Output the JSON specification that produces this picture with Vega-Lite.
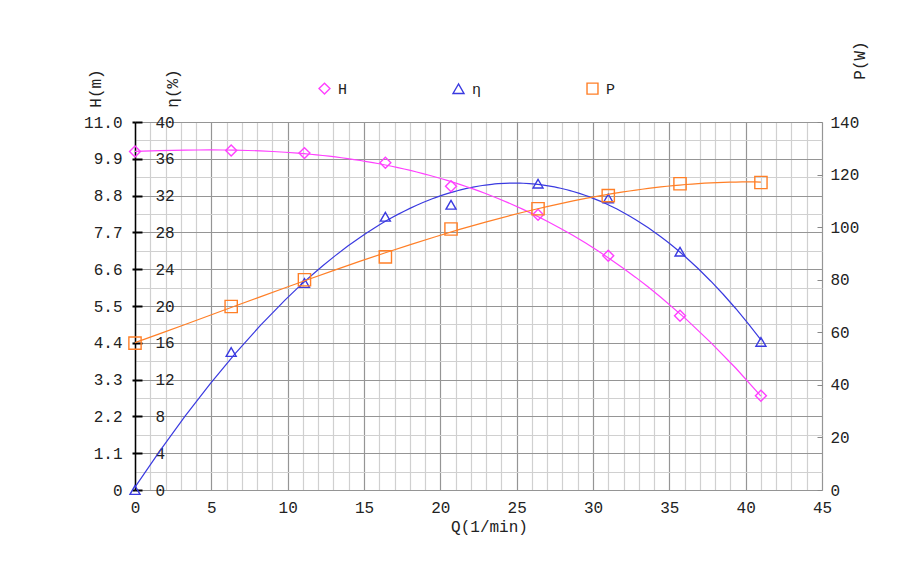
{
  "$schema": "https://vega.github.io/schema/vega-lite/v6.json",
  "width": 687,
  "height": 368,
  "autosize": "none",
  "padding": {"left": 135, "top": 122, "right": 101, "bottom": 97},
  "background": "white",
  "config": {
    "view": {"stroke": null},
    "font": "Liberation Mono",
    "axis": {"labelFont": "Liberation Mono", "titleFont": "Liberation Mono", "labelFontSize": 16, "titleFontSize": 16, "titleFontWeight": "normal", "labelColor": "#222", "titleColor": "#222"},
    "legend": {"labelFont": "Liberation Mono", "labelFontSize": 15, "labelColor": "#222"}
  },
  "data": {
    "values": [
      {"Q": 0, "series": "H", "value": 10.12},
      {"Q": 6.3, "series": "H", "value": 10.15},
      {"Q": 11.1, "series": "H", "value": 10.07},
      {"Q": 16.4, "series": "H", "value": 9.78},
      {"Q": 20.7, "series": "H", "value": 9.08},
      {"Q": 26.4, "series": "H", "value": 8.23},
      {"Q": 31.0, "series": "H", "value": 7.0},
      {"Q": 35.7, "series": "H", "value": 5.21},
      {"Q": 41.0, "series": "H", "value": 2.82},
      {"Q": 0, "series": "η", "value": 0},
      {"Q": 6.3, "series": "η", "value": 15.0},
      {"Q": 11.1, "series": "η", "value": 22.5},
      {"Q": 16.4, "series": "η", "value": 29.7},
      {"Q": 20.7, "series": "η", "value": 31.0},
      {"Q": 26.4, "series": "η", "value": 33.3},
      {"Q": 31.0, "series": "η", "value": 31.7},
      {"Q": 35.7, "series": "η", "value": 25.9},
      {"Q": 41.0, "series": "η", "value": 16.1},
      {"Q": 0, "series": "P", "value": 55.9},
      {"Q": 6.3, "series": "P", "value": 69.8},
      {"Q": 11.1, "series": "P", "value": 80.0},
      {"Q": 16.4, "series": "P", "value": 88.7},
      {"Q": 20.7, "series": "P", "value": 99.3},
      {"Q": 26.4, "series": "P", "value": 107.0},
      {"Q": 31.0, "series": "P", "value": 112.0},
      {"Q": 35.7, "series": "P", "value": 116.5},
      {"Q": 41.0, "series": "P", "value": 117.0}
    ]
  },
  "encoding": {
    "x": {
      "field": "Q", "type": "quantitative",
      "scale": {"domain": [0, 45], "nice": false},
      "axis": {
        "values": [0,1,2,3,4,5,6,7,8,9,10,11,12,13,14,15,16,17,18,19,20,21,22,23,24,25,26,27,28,29,30,31,32,33,34,35,36,37,38,39,40,41,42,43,44,45],
        "labelExpr": "datum.value % 5 == 0 ? datum.label : ''",
        "grid": true,
        "gridColor": {"condition": {"test": "datum.value % 5 == 0", "value": "#959595"}, "value": "#d0d0d0"},
        "gridWidth": 1.2,
        "ticks": false, "domain": false,
        "labelPadding": 9,
        "labelFlush": false,
        "title": "Q(1/min)",
        "titleX": 354, "titleY": 36, "titleBaseline": "middle", "titleAnchor": null, "titleAlign": "center"
      }
    }
  },
  "layer": [
    {
      "transform": [{"filter": {"field": "series", "equal": "η"}}],
      "encoding": {
        "y": {
          "field": "value", "type": "quantitative",
          "scale": {"domain": [0, 40], "nice": false},
          "axis": {
            "orient": "left",
            "values": [0,2,4,6,8,10,12,14,16,18,20,22,24,26,28,30,32,34,36,38,40],
            "labelExpr": "datum.value % 4 == 0 ? datum.label : ''",
            "grid": true,
            "gridColor": {"condition": {"test": "datum.value % 4 == 0", "value": "#959595"}, "value": "#d0d0d0"},
            "gridWidth": 1.2,
            "tickSize": -7, "tickWidth": 2,
            "tickColor": {"condition": {"test": "datum.value % 4 == 0", "value": "#000000"}, "value": "transparent"},
            "domain": false,
            "labelAlign": "left", "labelPadding": -13, "labelBaseline": "middle",
            "title": "η(%)", "titleAngle": 270, "titleX": 37, "titleY": -34, "titleAlign": "center", "titleBaseline": "middle"
          }
        }
      },
      "layer": [
        {
          "transform": [{"regression": "value", "on": "Q", "method": "poly", "order": 3, "extent": [0, 41]}],
          "mark": {"type": "line", "color": "#3a3ae0", "strokeWidth": 1.2}
        },
        {
          "mark": {"type": "point", "filled": false, "strokeWidth": 1.4, "size": 100, "opacity": 1},
          "encoding": {
            "color": {"field": "series", "type": "nominal", "scale": {"domain": ["H", "η", "P"], "range": ["#ff40ff", "#3a3ae0", "#ff7f27"]}, "legend": {"title": null, "orient": "none", "legendX": 182, "legendY": -41, "direction": "horizontal", "columns": 3, "columnPadding": 102, "padding": 0, "symbolSize": 120, "symbolStrokeWidth": 1.4, "labelOffset": 6}},
            "shape": {"field": "series", "type": "nominal", "scale": {"domain": ["H", "η", "P"], "range": ["diamond", "triangle-up", "square"]}, "legend": {"title": null, "orient": "none", "legendX": 182, "legendY": -41, "direction": "horizontal", "columns": 3, "columnPadding": 102, "padding": 0, "symbolSize": 120, "symbolStrokeWidth": 1.4, "labelOffset": 6}}
          }
        }
      ]
    },
    {
      "transform": [{"filter": {"field": "series", "equal": "H"}}],
      "encoding": {
        "y": {
          "field": "value", "type": "quantitative",
          "scale": {"domain": [0, 11], "nice": false},
          "axis": {
            "orient": "left",
            "values": [0, 1.1, 2.2, 3.3, 4.4, 5.5, 6.6, 7.7, 8.8, 9.9, 11.0],
            "labelExpr": "datum.value == 0 ? '0' : format(datum.value, '.1f')",
            "grid": false,
            "tickSize": 3, "tickWidth": 2, "tickColor": "#000000",
            "domain": true, "domainColor": "#000000", "domainWidth": 1.5,
            "labelPadding": 10, "labelBaseline": "middle",
            "title": "H(m)", "titleAngle": 270, "titleX": -40, "titleY": -34, "titleAlign": "center", "titleBaseline": "middle"
          }
        }
      },
      "layer": [
        {
          "transform": [{"regression": "value", "on": "Q", "method": "poly", "order": 3, "extent": [0, 41]}],
          "mark": {"type": "line", "color": "#ff40ff", "strokeWidth": 1.2}
        },
        {
          "mark": {"type": "point", "filled": false, "strokeWidth": 1.4, "size": 120, "opacity": 1},
          "encoding": {
            "color": {"field": "series", "type": "nominal"},
            "shape": {"field": "series", "type": "nominal"}
          }
        }
      ]
    },
    {
      "transform": [{"filter": {"field": "series", "equal": "P"}}],
      "encoding": {
        "y": {
          "field": "value", "type": "quantitative",
          "scale": {"domain": [0, 140], "nice": false},
          "axis": {
            "orient": "right",
            "values": [0, 20, 40, 60, 80, 100, 120, 140],
            "grid": false,
            "tickSize": -5, "tickWidth": 1, "tickColor": "#888888",
            "domain": false,
            "labelPadding": 13, "labelBaseline": "middle",
            "title": "P(W)", "titleAngle": 270, "titleX": 37, "titleY": -62, "titleAlign": "center", "titleBaseline": "middle"
          }
        }
      },
      "layer": [
        {
          "transform": [{"regression": "value", "on": "Q", "method": "poly", "order": 3, "extent": [0, 41]}],
          "mark": {"type": "line", "color": "#ff7f27", "strokeWidth": 1.2}
        },
        {
          "mark": {"type": "point", "filled": false, "strokeWidth": 1.4, "size": 150, "opacity": 1},
          "encoding": {
            "color": {"field": "series", "type": "nominal"},
            "shape": {"field": "series", "type": "nominal"}
          }
        }
      ]
    }
  ],
  "resolve": {"scale": {"y": "independent"}}
}
